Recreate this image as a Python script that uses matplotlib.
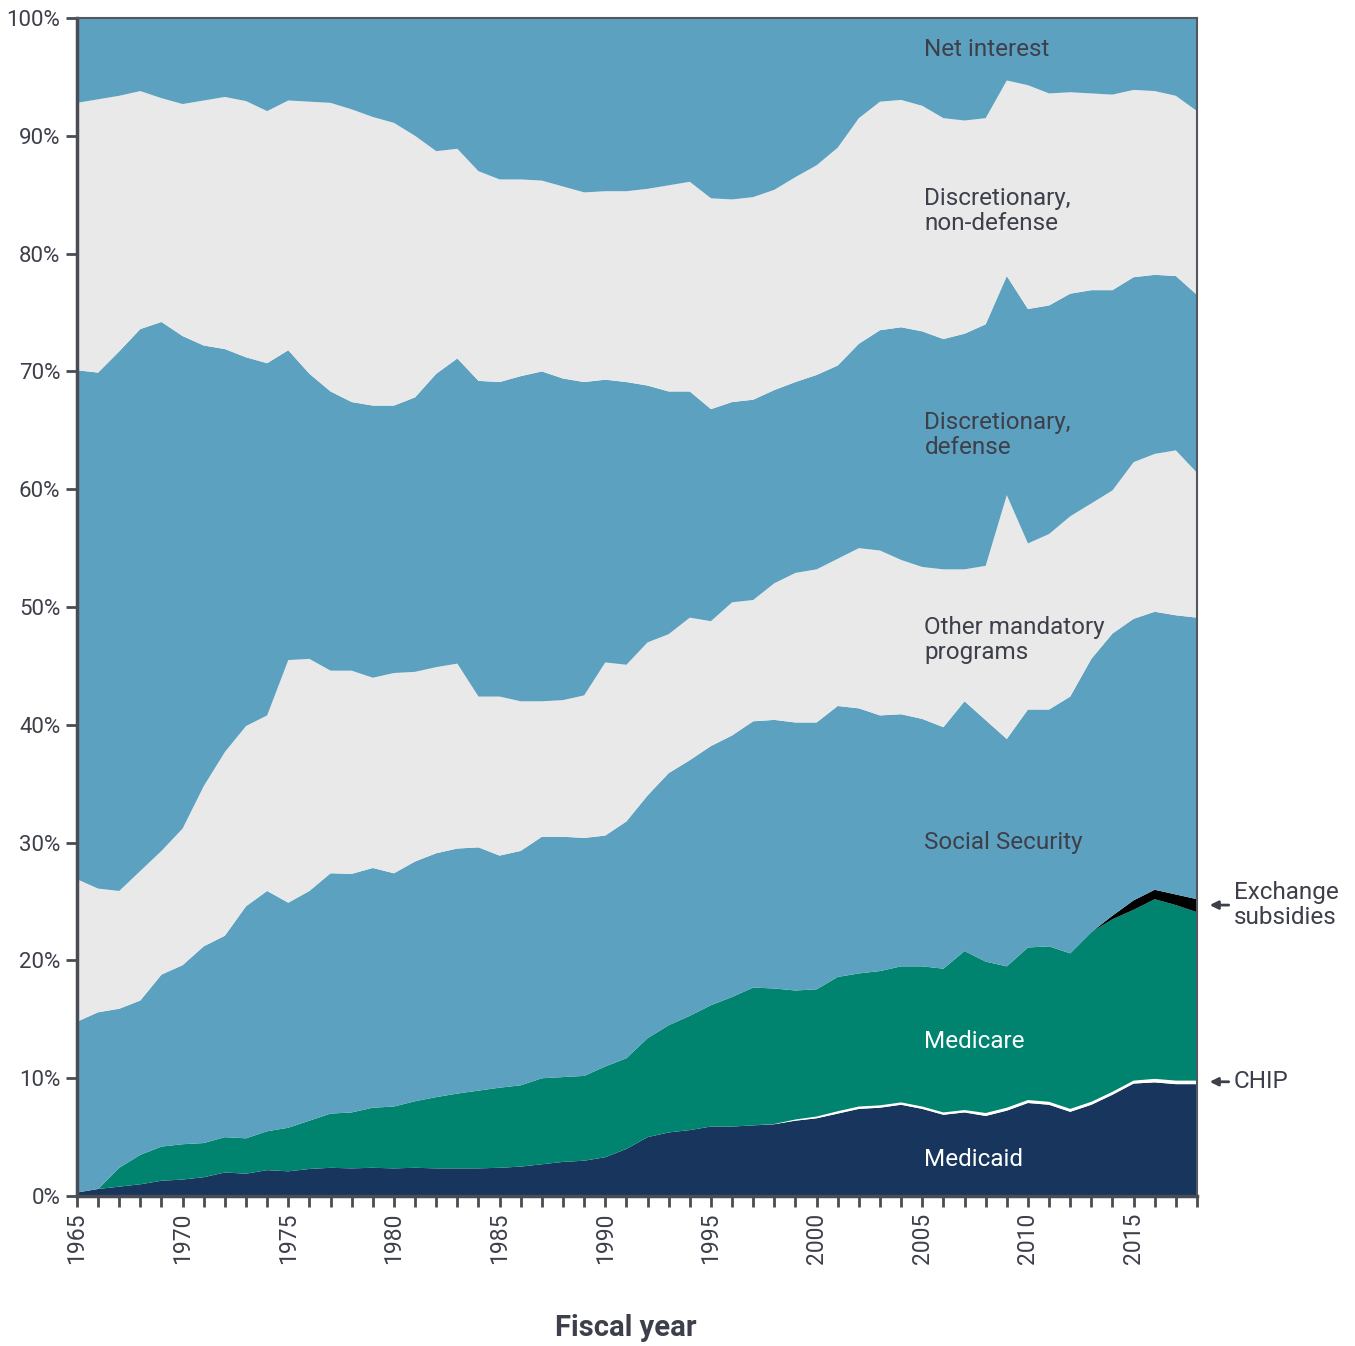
import matplotlib
matplotlib.use("Agg")
import matplotlib.pyplot as plt
import numpy as np

plt.rcParams['font.family'] = ['Roboto', 'DejaVu Sans']

# share of federal outlays (%), fiscal years 1965-2018
years = list(range(1965, 2019))

medicaid = [0.3, 0.6, 0.8, 1.0, 1.3, 1.4, 1.6, 2.0, 1.9, 2.2,
            2.1, 2.3, 2.4, 2.35, 2.4, 2.35, 2.4, 2.35, 2.35, 2.35,
            2.4, 2.5, 2.7, 2.9, 3.0, 3.3, 4.0, 5.0, 5.4, 5.6,
            5.9, 5.9, 6.0, 6.1, 6.4, 6.6, 7.0, 7.4, 7.5, 7.75,
            7.4, 6.9, 7.1, 6.8, 7.25, 7.9, 7.75, 7.15, 7.75, 8.6,
            9.55, 9.65, 9.5, 9.5]
chip = [0] * 33 + [0.02, 0.1, 0.15, 0.2, 0.2, 0.2, 0.2,
                   0.2, 0.2, 0.2, 0.25, 0.25, 0.25, 0.25, 0.25, 0.25, 0.25,
                   0.25, 0.3, 0.3, 0.3]
medicare = [0, 0, 1.6, 2.5, 2.9, 3.0, 2.9, 3.0, 3.0, 3.3,
            3.7, 4.1, 4.6, 4.75, 5.1, 5.25, 5.65, 6.05, 6.35, 6.6,
            6.8, 6.9, 7.3, 7.2, 7.2, 7.7, 7.7, 8.4, 9.1, 9.7,
            10.3, 11.0, 11.7, 11.5, 10.95, 10.8, 11.4, 11.3, 11.4, 11.55,
            11.9, 12.2, 13.5, 12.85, 12.0, 12.95, 13.2, 13.2, 14.4, 14.65,
            14.5, 15.25, 14.9, 14.3]
exchange = [0] * 49 + [0.3, 0.8, 0.8, 0.9, 1.1]
social_security = [14.5, 15.0, 13.5, 13.1, 14.6, 15.2, 16.7, 17.1, 19.7, 20.4,
                   19.1, 19.5, 20.4, 20.25, 20.35, 19.8, 20.35, 20.7, 20.8, 20.65,
                   19.7, 19.9, 20.5, 20.4, 20.2, 19.6, 20.1, 20.6, 21.4, 21.7,
                   22.0, 22.2, 22.6, 22.8, 22.75, 22.65, 23.0, 22.5, 21.7, 21.4,
                   21.0, 20.5, 21.2, 20.5, 19.3, 20.2, 20.1, 21.8, 23.2, 23.95,
                   23.9, 23.6, 23.7, 23.9]
other_mandatory = [12.1, 10.5, 10.0, 11.0, 10.5, 11.6, 13.6, 15.6, 15.3, 14.9,
                   20.6, 19.7, 17.2, 17.25, 16.15, 17.0, 16.1, 15.8, 15.7, 12.8,
                   13.5, 12.7, 11.5, 11.6, 12.1, 14.7, 13.3, 13.0, 11.8, 12.1,
                   10.6, 11.3, 10.3, 11.6, 12.7, 13.0, 12.5, 13.6, 14.0, 13.1,
                   12.9, 13.4, 11.2, 13.1, 20.7, 14.1, 14.9, 15.3, 13.2, 12.15,
                   13.3, 13.4, 14.0, 12.3]
defense = [43.2, 43.8, 45.8, 46.0, 44.9, 41.8, 37.4, 34.2, 31.3, 29.9,
           26.3, 24.2, 23.7, 22.8, 23.1, 22.7, 23.3, 24.9, 25.9, 26.8,
           26.7, 27.6, 28.0, 27.3, 26.6, 24.0, 24.0, 21.8, 20.6, 19.2,
           18.0, 17.0, 17.0, 16.4, 16.2, 16.5, 16.4, 17.35, 18.7, 19.75,
           20.0, 19.55, 20.0, 20.5, 18.6, 19.9, 19.4, 18.9, 18.1, 17.0,
           15.7, 15.2, 14.8, 15.1]
non_defense = [22.7, 23.2, 21.7, 20.2, 19.0, 19.7, 20.8, 21.4, 21.75, 21.4,
               21.2, 23.1, 24.5, 24.85, 24.5, 24.0, 22.2, 18.9, 17.8, 17.8,
               17.2, 16.7, 16.2, 16.3, 16.1, 16.0, 16.2, 16.7, 17.5, 17.8,
               17.9, 17.2, 17.2, 17.0, 17.4, 17.8, 18.5, 19.15, 19.4, 19.3,
               19.15, 18.75, 18.1, 17.5, 16.6, 19.0, 18.0, 17.1, 16.7, 16.6,
               15.9, 15.6, 15.3, 15.6]
net_interest = [7.2, 6.9, 6.6, 6.2, 6.8, 7.3, 7.0, 6.7, 7.05, 7.9,
                7.0, 7.1, 7.2, 7.75, 8.4, 8.9, 10.0, 11.3, 11.1, 13.0,
                13.7, 13.7, 13.8, 14.3, 14.8, 14.7, 14.7, 14.5, 14.2, 13.9,
                15.3, 15.4, 15.2, 14.6, 13.5, 12.5, 11.0, 8.5, 7.1, 6.95,
                7.45, 8.5, 8.7, 8.5, 5.3, 5.7, 6.4, 6.3, 6.4, 6.5,
                6.1, 6.2, 6.6, 7.9]

BLUE = '#5ca1bf'
GRAY = '#e9e9e9'
NAVY = '#18365d'
GREEN = '#008470'
TXT = '#3d3f4a'
FS = 17.5

fig = plt.figure(figsize=(13.55, 13.46), dpi=100)
ax = fig.add_axes([0.0568, 0.1114, 0.8266, 0.8752])

ax.stackplot(years, medicaid, chip, medicare, exchange, social_security,
             other_mandatory, defense, non_defense, net_interest,
             colors=[NAVY, 'white', GREEN, 'black', BLUE, GRAY, BLUE, GRAY, BLUE],
             linewidth=0)

ax.set_xlim(1965, 2018)
ax.set_ylim(0, 100)

ax.set_xticks(years)
ax.set_xticklabels([str(y) if y % 5 == 0 else '' for y in years],
                   rotation=90, fontsize=16.5, color=TXT)
ax.set_yticks(range(0, 101, 10))
ax.set_yticklabels([f'{v}%' for v in range(0, 101, 10)], fontsize=16, color=TXT)
ax.tick_params(axis='both', length=8, width=2, color='#4a4c55', pad=4)
for s in ax.spines.values():
    s.set_color('#55575f')
    s.set_linewidth(1.5)
ax.spines['left'].set_linewidth(2.5)
ax.spines['bottom'].set_linewidth(2.5)
ax.spines['left'].set_color('#4a4c55')
ax.spines['bottom'].set_color('#4a4c55')

ax.set_xlabel('Fiscal year', fontsize=21, fontweight='bold', color=TXT)
ax.xaxis.set_label_coords(0.49, -0.1)

# series labels
lx = 2005.1
ax.text(lx, 97.3, 'Net interest', fontsize=FS, color=TXT, va='center')
ax.text(lx, 83.6, 'Discretionary,\nnon-defense', fontsize=FS, color=TXT, va='center',
        linespacing=1.1)
ax.text(lx, 64.6, 'Discretionary,\ndefense', fontsize=FS, color=TXT, va='center',
        linespacing=1.1)
ax.text(lx, 47.2, 'Other mandatory\nprograms', fontsize=FS, color=TXT, va='center',
        linespacing=1.1)
ax.text(lx, 30.0, 'Social Security', fontsize=FS, color=TXT, va='center')
ax.text(lx, 13.1, 'Medicare', fontsize=FS, color='white', va='center')
ax.text(lx, 3.1, 'Medicaid', fontsize=FS, color='white', va='center')

# callouts outside the plot
arrow = dict(arrowstyle='-|>', color=TXT, lw=2, mutation_scale=12,
             shrinkA=0, shrinkB=0)
ax.annotate('', xy=(2018.6, 24.7), xytext=(2019.5, 24.7),
            arrowprops=arrow, annotation_clip=False)
ax.text(2019.75, 24.7, 'Exchange\nsubsidies', fontsize=FS, color=TXT,
        va='center', linespacing=1.1, clip_on=False)
ax.annotate('', xy=(2018.6, 9.7), xytext=(2019.5, 9.7),
            arrowprops=arrow, annotation_clip=False)
ax.text(2019.75, 9.7, 'CHIP', fontsize=FS, color=TXT, va='center', clip_on=False)

fig.savefig('out.png', dpi=100)
